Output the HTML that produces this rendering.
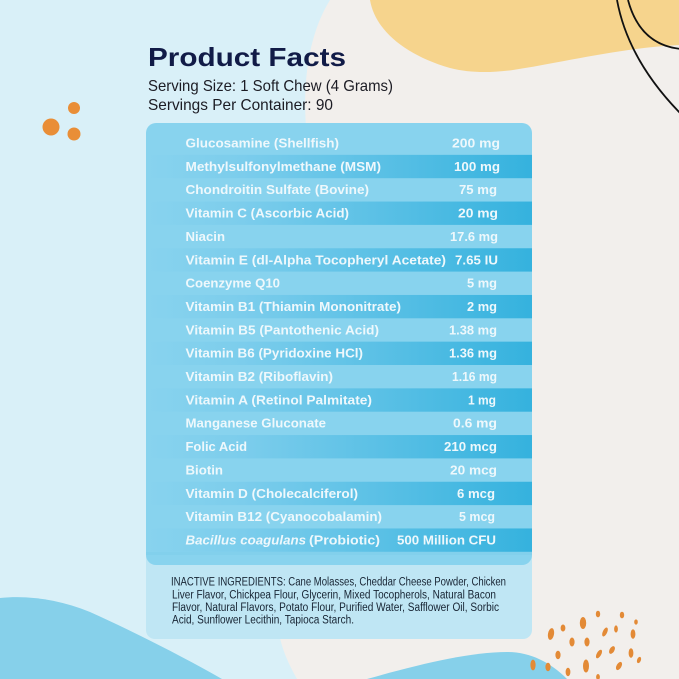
<!DOCTYPE html>
<html><head><meta charset="utf-8"><style>
html,body{margin:0;padding:0;background:#f2efec;}
svg{display:block;}
</style></head><body>
<svg width="679" height="679" viewBox="0 0 679 679" xmlns="http://www.w3.org/2000/svg">
<defs>
<linearGradient id="dk" x1="0" y1="0" x2="1" y2="0">
<stop offset="0" stop-color="#88d3ee"/>
<stop offset="0.25" stop-color="#7ccdec"/>
<stop offset="1" stop-color="#35b2de"/>
</linearGradient>
</defs>
<rect width="679" height="679" fill="#f2efec"/>
<path d="M0,0 L330,0 C305,40 300,100 310,160 L290,560 C270,610 275,640 297,679 L0,679 Z" fill="#d9f0f8"/>
<path d="M370,0 C375,30 405,55 450,68 C470,73 490,73 513,70 C560,63 620,48 679,45 L679,0 Z" fill="#f6d48d"/>
<path d="M617,0 Q628,60 681,114" fill="none" stroke="#111" stroke-width="1.8"/>
<path d="M628,0 Q640,45 681,49" fill="none" stroke="#111" stroke-width="1.8"/>
<path d="M0,598 C30,595 60,600 90,612 C130,630 180,655 222,679 L0,679 Z" fill="#86d0ea"/>
<path d="M367,679 C420,664 470,652 507,652 C530,652 550,662 567,679 Z" fill="#86d0ea"/>
<g fill="#e98e37">
<circle cx="51" cy="127" r="8.5"/>
<circle cx="74" cy="108" r="6"/>
<circle cx="74" cy="134" r="6.5"/>
</g>
<g fill="#e38a36">
<ellipse cx="551" cy="634" rx="3" ry="6" transform="rotate(10 551 634)"/>
<ellipse cx="563" cy="628" rx="2.4" ry="3.5"/>
<ellipse cx="583" cy="623" rx="3.2" ry="6"/>
<ellipse cx="598" cy="614" rx="2.2" ry="3.3"/>
<ellipse cx="622" cy="615" rx="2.2" ry="3.3"/>
<ellipse cx="636" cy="622" rx="1.8" ry="2.6"/>
<ellipse cx="605" cy="632" rx="2.2" ry="4.8" transform="rotate(25 605 632)"/>
<ellipse cx="616" cy="629" rx="1.9" ry="3.6"/>
<ellipse cx="633" cy="634" rx="2.4" ry="4.8"/>
<ellipse cx="572" cy="642" rx="2.6" ry="4.5"/>
<ellipse cx="587" cy="642" rx="2.6" ry="4.5"/>
<ellipse cx="612" cy="650" rx="2.4" ry="4.2" transform="rotate(30 612 650)"/>
<ellipse cx="599" cy="654" rx="2.2" ry="4.8" transform="rotate(30 599 654)"/>
<ellipse cx="558" cy="655" rx="2.6" ry="4.2"/>
<ellipse cx="631" cy="653" rx="2.4" ry="4.8"/>
<ellipse cx="639" cy="660" rx="1.9" ry="3.3" transform="rotate(20 639 660)"/>
<ellipse cx="533" cy="665" rx="2.6" ry="5.4"/>
<ellipse cx="548" cy="667" rx="2.6" ry="4.2"/>
<ellipse cx="586" cy="666" rx="3" ry="6.5"/>
<ellipse cx="619" cy="666" rx="2.4" ry="4.5" transform="rotate(30 619 666)"/>
<ellipse cx="568" cy="672" rx="2.4" ry="4.2"/>
<ellipse cx="598" cy="677" rx="1.9" ry="3"/>
</g>
<text x="148" y="66" font-family="Liberation Sans, sans-serif" font-weight="bold" font-size="26" fill="#111b47" textLength="198" lengthAdjust="spacingAndGlyphs">Product Facts</text>
<text x="148" y="91" font-family="Liberation Sans, sans-serif" font-size="16" fill="#1c1c24" textLength="245" lengthAdjust="spacingAndGlyphs">Serving Size: 1 Soft Chew (4 Grams)</text>
<text x="148" y="110" font-family="Liberation Sans, sans-serif" font-size="16" fill="#1c1c24" textLength="185" lengthAdjust="spacingAndGlyphs">Servings Per Container: 90</text>
<rect x="146" y="548" width="386" height="91" rx="9" fill="#bfe6f4"/>
<rect x="146" y="123" width="386" height="442" rx="10" fill="#88d3ee"/>
<rect x="146" y="552" width="386" height="3" fill="#82d0ec"/>
<g fill="url(#dk)">
<rect x="146" y="154.85" width="386" height="23.35"/>
<rect x="146" y="201.55" width="386" height="23.35"/>
<rect x="146" y="248.25" width="386" height="23.35"/>
<rect x="146" y="294.95" width="386" height="23.35"/>
<rect x="146" y="341.65" width="386" height="23.35"/>
<rect x="146" y="388.35" width="386" height="23.35"/>
<rect x="146" y="435.05" width="386" height="23.35"/>
<rect x="146" y="481.75" width="386" height="23.35"/>
<rect x="146" y="528.45" width="386" height="23.35"/>
</g>
<g font-family="Liberation Sans, sans-serif" font-weight="bold" font-size="13" fill="#eef8fc">
<text x="185.5" y="147.5" textLength="153.5" lengthAdjust="spacingAndGlyphs">Glucosamine (Shellfish)</text>
<text x="185.5" y="170.85" textLength="195.5" lengthAdjust="spacingAndGlyphs">Methylsulfonylmethane (MSM)</text>
<text x="185.5" y="194.2" textLength="183.5" lengthAdjust="spacingAndGlyphs">Chondroitin Sulfate (Bovine)</text>
<text x="185.5" y="217.55" textLength="163.5" lengthAdjust="spacingAndGlyphs">Vitamin C (Ascorbic Acid)</text>
<text x="185.5" y="240.9" textLength="39.5" lengthAdjust="spacingAndGlyphs">Niacin</text>
<text x="185.5" y="264.25" textLength="260.5" lengthAdjust="spacingAndGlyphs">Vitamin E (dl-Alpha Tocopheryl Acetate)</text>
<text x="185.5" y="287.6" textLength="94.5" lengthAdjust="spacingAndGlyphs">Coenzyme Q10</text>
<text x="185.5" y="310.95" textLength="215.5" lengthAdjust="spacingAndGlyphs">Vitamin B1 (Thiamin Mononitrate)</text>
<text x="185.5" y="334.3" textLength="193.5" lengthAdjust="spacingAndGlyphs">Vitamin B5 (Pantothenic Acid)</text>
<text x="185.5" y="357.65" textLength="177.5" lengthAdjust="spacingAndGlyphs">Vitamin B6 (Pyridoxine HCl)</text>
<text x="185.5" y="381" textLength="147.5" lengthAdjust="spacingAndGlyphs">Vitamin B2 (Riboflavin)</text>
<text x="185.5" y="404.35" textLength="186.5" lengthAdjust="spacingAndGlyphs">Vitamin A (Retinol Palmitate)</text>
<text x="185.5" y="427.7" textLength="140.5" lengthAdjust="spacingAndGlyphs">Manganese Gluconate</text>
<text x="185.5" y="451.05" textLength="61.5" lengthAdjust="spacingAndGlyphs">Folic Acid</text>
<text x="185.5" y="474.4" textLength="37.5" lengthAdjust="spacingAndGlyphs">Biotin</text>
<text x="185.5" y="497.75" textLength="172.5" lengthAdjust="spacingAndGlyphs">Vitamin D (Cholecalciferol)</text>
<text x="185.5" y="521.1" textLength="196.5" lengthAdjust="spacingAndGlyphs">Vitamin B12 (Cyanocobalamin)</text>
<text x="185.5" y="544.45" font-style="italic" textLength="120.5" lengthAdjust="spacingAndGlyphs">Bacillus coagulans</text>
<text x="309" y="544.45" textLength="71" lengthAdjust="spacingAndGlyphs">(Probiotic)</text>
</g>
<g font-family="Liberation Sans, sans-serif" font-weight="bold" font-size="13" fill="#eef8fc">
<text x="452" y="147.5" textLength="48" lengthAdjust="spacingAndGlyphs">200 mg</text>
<text x="454" y="170.85" textLength="46" lengthAdjust="spacingAndGlyphs">100 mg</text>
<text x="459" y="194.2" textLength="38" lengthAdjust="spacingAndGlyphs">75 mg</text>
<text x="458" y="217.55" textLength="40" lengthAdjust="spacingAndGlyphs">20 mg</text>
<text x="450" y="240.9" textLength="48" lengthAdjust="spacingAndGlyphs">17.6 mg</text>
<text x="455" y="264.25" textLength="43" lengthAdjust="spacingAndGlyphs">7.65 IU</text>
<text x="467" y="287.6" textLength="30" lengthAdjust="spacingAndGlyphs">5 mg</text>
<text x="467" y="310.95" textLength="30" lengthAdjust="spacingAndGlyphs">2 mg</text>
<text x="449" y="334.3" textLength="48" lengthAdjust="spacingAndGlyphs">1.38 mg</text>
<text x="449" y="357.65" textLength="48" lengthAdjust="spacingAndGlyphs">1.36 mg</text>
<text x="452" y="381" textLength="45" lengthAdjust="spacingAndGlyphs">1.16 mg</text>
<text x="468" y="404.35" textLength="28" lengthAdjust="spacingAndGlyphs">1 mg</text>
<text x="453" y="427.7" textLength="44" lengthAdjust="spacingAndGlyphs">0.6 mg</text>
<text x="444" y="451.05" textLength="53" lengthAdjust="spacingAndGlyphs">210 mcg</text>
<text x="450" y="474.4" textLength="47" lengthAdjust="spacingAndGlyphs">20 mcg</text>
<text x="457" y="497.75" textLength="38" lengthAdjust="spacingAndGlyphs">6 mcg</text>
<text x="459" y="521.1" textLength="36" lengthAdjust="spacingAndGlyphs">5 mcg</text>
<text x="397" y="544.45" textLength="99" lengthAdjust="spacingAndGlyphs">500 Million CFU</text>
</g>
<g font-family="Liberation Sans, sans-serif" font-size="11.5" fill="#172433">
<text x="171" y="585.5" textLength="335" lengthAdjust="spacingAndGlyphs">INACTIVE INGREDIENTS: Cane Molasses, Cheddar Cheese Powder, Chicken</text>
<text x="172" y="598.3" textLength="324" lengthAdjust="spacingAndGlyphs">Liver Flavor, Chickpea Flour, Glycerin, Mixed Tocopherols, Natural Bacon</text>
<text x="172" y="611" textLength="327" lengthAdjust="spacingAndGlyphs">Flavor, Natural Flavors, Potato Flour, Purified Water, Safflower Oil, Sorbic</text>
<text x="172" y="623.5" textLength="182" lengthAdjust="spacingAndGlyphs">Acid, Sunflower Lecithin, Tapioca Starch.</text>
</g>
</svg>
</body></html>
